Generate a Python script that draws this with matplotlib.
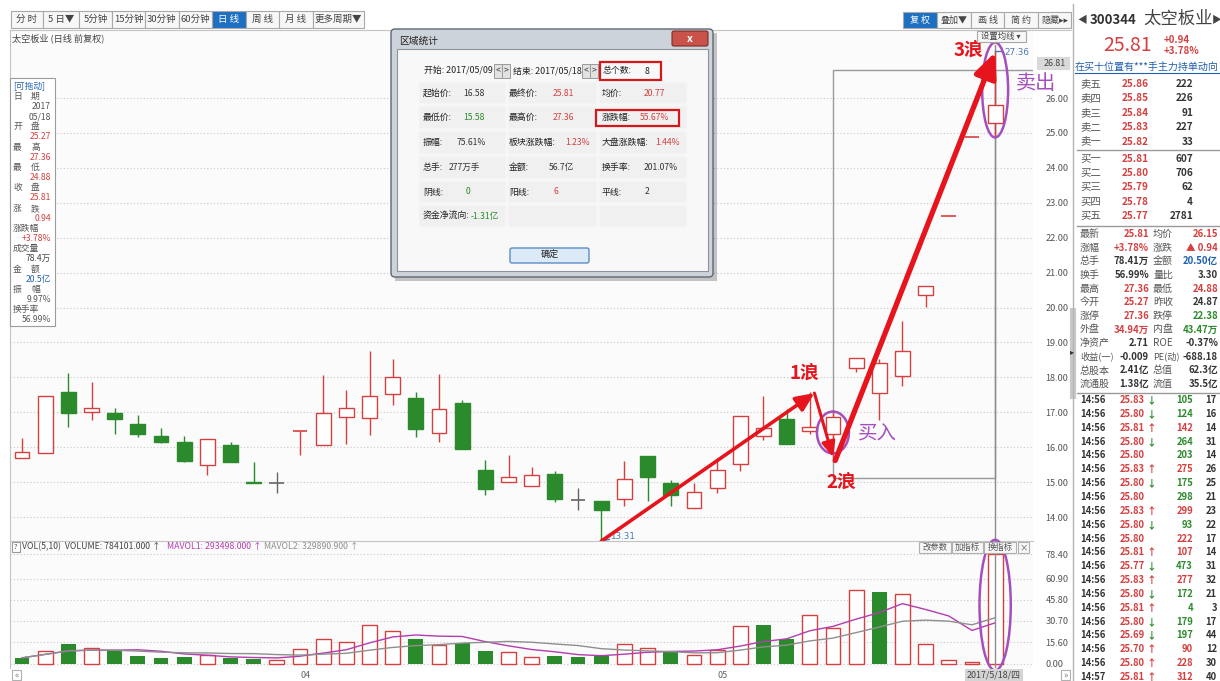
from __future__ import annotations

import numpy as np
import pandas as pd
import matplotlib
matplotlib.use("Agg")
import matplotlib.pyplot as plt
from matplotlib.patches import Rectangle, Ellipse, FancyBboxPatch

plt.rcParams["font.family"] = ["Noto Sans CJK SC", "DejaVu Sans"]

# ------------------------------------------------------------------ #
#   Daily bars 300344 (2017-03-16 .. 2017-05-18)
# ------------------------------------------------------------------ #
OPEN = [15.68, 15.83, 17.59, 17.02, 16.99, 16.66, 16.33, 16.16, 15.48, 16.06,
        14.99, 14.97, 16.47, 16.05, 16.86, 16.85, 17.52, 17.42, 16.40, 17.26,
        15.35, 14.99, 14.89, 15.23, 14.50, 14.47, 14.51, 15.76, 14.97, 14.25,
        14.82, 15.52, 16.32, 16.81, 16.46, 16.38, 18.26, 17.55, 18.05, 20.36,
        22.61, 24.87, 25.27]
HIGH = [16.27, 17.47, 18.12, 17.88, 17.13, 16.92, 16.54, 16.33, 16.24, 16.14,
        15.59, 15.28, 16.47, 18.07, 17.64, 18.75, 18.54, 17.59, 18.09, 17.35,
        15.63, 15.78, 15.44, 15.33, 14.82, 14.47, 15.61, 15.76, 15.06, 14.98,
        15.68, 16.89, 17.47, 17.09, 17.59, 17.06, 18.55, 18.54, 19.60, 20.62,
        22.61, 24.87, 27.36]
LOW = [15.68, 15.83, 16.57, 16.78, 16.37, 16.30, 16.11, 15.57, 15.20, 15.58,
       14.97, 14.70, 15.78, 16.05, 16.09, 16.35, 17.21, 16.30, 16.16, 15.95,
       14.63, 14.99, 14.89, 14.44, 14.20, 13.31, 14.31, 14.47, 14.31, 14.25,
       14.68, 15.33, 16.21, 16.08, 16.38, 15.58, 18.16, 16.78, 17.75, 20.02,
       22.61, 24.87, 24.88]
CLOSE = [15.87, 17.47, 16.99, 17.13, 16.80, 16.38, 16.14, 15.60, 16.24, 15.58,
         14.97, 14.97, 16.47, 16.97, 17.13, 17.48, 18.00, 16.52, 17.09, 15.95,
         14.80, 15.16, 15.20, 14.51, 14.50, 14.20, 15.09, 15.16, 14.63, 14.71,
         15.35, 16.89, 16.54, 16.08, 16.58, 16.86, 18.55, 18.42, 18.75, 20.62,
         22.61, 24.87, 25.81]
PREV_CLOSE = 15.95

# volume in 10k lots (万手)
VOLUME = [4.4, 9.3, 14.4, 11.4, 9.8, 5.8, 4.0, 4.9, 6.7, 4.0,
          3.5, 2.6, 10.9, 17.9, 16.0, 27.9, 23.7, 17.9, 13.7, 14.9,
          9.5, 8.6, 4.9, 5.6, 4.9, 5.6, 14.0, 11.6, 8.6, 6.3,
          10.2, 27.2, 27.9, 18.0, 35.0, 26.0, 53.0, 51.2, 50.0, 14.1,
          2.8, 1.4, 78.41]
VOL_TICKS = [0.0, 15.6, 30.7, 45.8, 60.9, 78.4]
MONTH_LABELS = {12: "04", 30: "05"}
LAST_DATE = "2017/5/18/四"
SEL_START, SEL_END = 35, 42
CROSS_PRICE = 26.81

ASK_NAME = ["卖五", "卖四", "卖三", "卖二", "卖一"]
ASK_PRICE = [25.86, 25.85, 25.84, 25.83, 25.82]
ASK_VOL = [222, 226, 91, 227, 33]
BID_NAME = ["买一", "买二", "买三", "买四", "买五"]
BID_PRICE = [25.81, 25.80, 25.79, 25.78, 25.77]
BID_VOL = [607, 706, 62, 4, 2781]

RED = "#d63f3f"
GREEN = "#2b8a2b"
BLUE = "#2060b0"
DARK = "#333333"
PURPLE = "#a54fbf"
ARROW = "#e6141c"

QUOTE = [
    (("最新", "25.81", RED), ("均价", "26.15", RED)),
    (("涨幅", "+3.78%", RED), ("涨跌", "▲ 0.94", RED)),
    (("总手", "78.41万", DARK), ("金额", "20.50亿", BLUE)),
    (("换手", "56.99%", DARK), ("量比", "3.30", DARK)),
    (("最高", "27.36", RED), ("最低", "24.88", RED)),
    (("今开", "25.27", RED), ("昨收", "24.87", DARK)),
    (("涨停", "27.36", RED), ("跌停", "22.38", GREEN)),
    (("外盘", "34.94万", RED), ("内盘", "43.47万", GREEN)),
    (("净资产", "2.71", DARK), ("ROE", "-0.37%", DARK)),
    (("收益(一)", "-0.009", DARK), ("PE(动)", "-688.18", DARK)),
    (("总股本", "2.41亿", DARK), ("总值", "62.3亿", DARK)),
    (("流通股", "1.38亿", DARK), ("流值", "35.5亿", DARK)),
]

TICK_TIME = ["14:56"] * 20 + ["14:57"]
TICK_PRICE = [25.83, 25.80, 25.81, 25.80, 25.80, 25.83, 25.80, 25.80, 25.83, 25.80,
              25.80, 25.81, 25.77, 25.83, 25.80, 25.81, 25.80, 25.69, 25.70, 25.80, 25.81]
TICK_DIR = ["d", "d", "u", "d", "", "u", "d", "", "u", "d",
            "", "u", "d", "u", "d", "u", "d", "d", "u", "u", "u"]
TICK_VOL = [105, 124, 142, 264, 203, 275, 175, 298, 299, 93,
            222, 107, 473, 277, 172, 4, 179, 197, 90, 228, 312]
TICK_SIDE = ["S", "S", "B", "S", "S", "B", "S", "S", "B", "S",
             "B", "B", "S", "B", "S", "S", "S", "S", "B", "B", "B"]
TICK_NUM = [17, 16, 14, 31, 14, 26, 25, 21, 23, 22,
            17, 14, 31, 32, 21, 3, 17, 44, 12, 30, 40]

# ------------------------------------------------------------------ #
#   Canvas: everything outside the two plots is laid out in pixels
# ------------------------------------------------------------------ #
W, H = 1220, 681
fig = plt.figure(figsize=(W / 100, H / 100), dpi=100)
fig.patch.set_facecolor("white")


def frac(x0, y0, x1, y1):
    return [x0 / W, 1 - y1 / H, (x1 - x0) / W, (y1 - y0) / H]


n = len(CLOSE)
idx = np.arange(n)
o, h, l, c = (np.asarray(a) for a in (OPEN, HIGH, LOW, CLOSE))
vol = np.asarray(VOLUME)
step = 23.17                       # pixels per bar
xl = ((10 - 22) / step, (1033 - 22) / step)

ax = fig.add_axes(frac(10, 30, 1033, 541))
axv = fig.add_axes(frac(10, 541, 1033, 668))
for a in (ax, axv):
    a.set_facecolor("#fbfbfb")
    a.set_xlim(*xl)
    a.set_xticks([])
    for s in ("right", "bottom"):
        a.spines[s].set_visible(False)
    for s in ("top", "left"):
        a.spines[s].set_color("#c4c4c4")
        a.spines[s].set_linewidth(0.8)
    a.yaxis.tick_right()
    a.tick_params(axis="y", length=0, pad=9, labelsize=6.6, labelcolor="#555555")
    a.grid(axis="y", color="#c9c9c9", linestyle=(0, (1, 2)), linewidth=0.8, zorder=0)
    a.set_axisbelow(True)

ax.set_ylim(26 - (541 - 98) / 34.92, 26 + (98 - 30) / 34.92)
ax.set_yticks(np.arange(14, 27))
ax.set_yticklabels([f"{v:.2f}" for v in np.arange(14, 27)])

# --- candles ---
bw = 0.64
for i in idx:
    if c[i] > o[i]:
        col, fill = RED, "white"
    elif c[i] < o[i]:
        col, fill = GREEN, GREEN
    else:
        col, fill = (RED if h[i] == c[i] else "#666666"), None
    ax.vlines(i, l[i], h[i], color=col, lw=1, zorder=2, clip_on=False)
    if fill is None:
        ax.hlines(c[i], i - bw / 2, i + bw / 2, color=col, lw=1.2, zorder=3)
    else:
        ax.add_patch(Rectangle((i - bw / 2, min(o[i], c[i])), bw, abs(c[i] - o[i]),
                               facecolor=fill, edgecolor=col, lw=1, zorder=3))

# --- selection box and crosshair ---
ax.add_patch(Rectangle((SEL_START, 15.12), SEL_END - SEL_START, CROSS_PRICE - 15.12,
                       fill=False, edgecolor="#9a9a9a", lw=1, zorder=1))
ax.hlines(CROSS_PRICE, SEL_END, xl[1], color="#9a9a9a", lw=1, zorder=1)
ax.axvline(SEL_END, ymax=0.97, color="#8c8c8c", lw=1, zorder=1.5)
axv.axvline(SEL_END, color="#8c8c8c", lw=1, zorder=4)

# --- extreme price tags ---
lo_i = int(np.argmin(l))
hi_i = int(np.argmax(h))
ax.plot([lo_i, lo_i + 0.35], [l[lo_i], l[lo_i] + 0.05], color="#4a78b8", lw=1, zorder=4)
ax.text(lo_i + 0.4, l[lo_i] + 0.12, f"{l[lo_i]:.2f}", fontsize=6.3, color="#4a78b8",
        va="center", family="DejaVu Sans")
ax.plot([hi_i, hi_i + 0.3], [h[hi_i], h[hi_i]], color="#4a78b8", lw=1, zorder=4)
ax.text(hi_i + 0.38, h[hi_i] - 0.05, f"{h[hi_i]:.2f}", fontsize=6.3, color="#4a78b8",
        va="center", family="DejaVu Sans", clip_on=False)

# --- wave arrows ---
def wave(p0, p1, lw, head):
    ax.annotate("", xy=p1, xytext=p0, zorder=6, annotation_clip=False,
                arrowprops=dict(arrowstyle=f"-|>,head_length={head},head_width={head * 0.45}",
                                color=ARROW, lw=lw, shrinkA=0, shrinkB=0))


peak1 = (34.2, 17.55)
trough2 = (35.0, 15.72)
wave((lo_i, l[lo_i]), peak1, 2.6, 1.1)
wave(peak1, trough2, 2.2, 0.9)
wave((35.1, 15.62), (hi_i, h[hi_i] - 0.05), 3.8, 1.5)
lab = dict(color=ARROW, fontsize=13.5, fontweight="bold", ha="center", va="center")
ax.text(33.75, 18.12, "1浪", **lab)
ax.text(35.35, 15.0, "2浪", **lab)
ax.text(40.85, 27.38, "3浪", **lab)

ax.add_patch(Ellipse((SEL_START, 16.42), 1.38, 1.2, fill=False, edgecolor=PURPLE, lw=1.8, zorder=5))
ax.add_patch(Ellipse((SEL_END, 26.23), 1.12, 2.72, fill=False, edgecolor=PURPLE, lw=1.8, zorder=5,
                     clip_on=False))
ax.text(36.9, 16.38, "买入", color=PURPLE, fontsize=14, ha="center", va="center")
ax.text(43.75, 26.42, "卖出", color=PURPLE, fontsize=14.5, ha="center", va="center", clip_on=False)

# --- volume panel ---
axv.set_ylim(-4 / 1.403, 78.4 + 13 / 1.403)
axv.set_yticks(VOL_TICKS)
axv.set_yticklabels([f"{v:.2f}" for v in VOL_TICKS])
prev = np.r_[PREV_CLOSE, c[:-1]]
up = c >= prev
axv.bar(idx[up], vol[up], width=bw, facecolor="white", edgecolor=RED, lw=1, zorder=2)
axv.bar(idx[~up], vol[~up], width=bw, color=GREEN, lw=0, zorder=2)
vs = pd.Series(vol)
axv.plot(idx, vs.rolling(5, min_periods=1).mean(), color="#b43cb0", lw=1, zorder=3)
axv.plot(idx, vs.rolling(10, min_periods=1).mean(), color="#8f8f8f", lw=1, zorder=3)
axv.add_patch(Ellipse((SEL_END, 42.0), 1.35, 93, fill=False, edgecolor=PURPLE, lw=1.8, zorder=5,
                      clip_on=False))
for k, s in MONTH_LABELS.items():
    axv.text(k, -4 / 1.403 - 5.5, s, fontsize=6.5, color="#666666", ha="left", va="center",
             clip_on=False)

# ------------------------------------------------------------------ #
#   Overlay for toolbars, side panels and the statistics dialog
# ------------------------------------------------------------------ #
ui = fig.add_axes([0, 0, 1, 1], zorder=10)
ui.set_xlim(0, W)
ui.set_ylim(H, 0)
ui.axis("off")


def box(x0, y0, x1, y1, fc="#f5f5f5", ec="#b0b0b0", lw=0.8, z=1):
    ui.add_patch(Rectangle((x0, y0), x1 - x0, y1 - y0, facecolor=fc, edgecolor=ec, lw=lw, zorder=z))


def put(x, y, s, size=7.0, color=DARK, ha="left", weight="normal", z=3, **kw):
    ui.text(x, y, s, fontsize=size, color=color, ha=ha, va="center",
            fontweight=weight, zorder=z, **kw)


# top toolbars
for s, x0, x1 in [("分 时", 11, 43), ("5 日▼", 43, 79), ("5分钟", 79, 112), ("15分钟", 112, 145),
                  ("30分钟", 145, 179), ("60分钟", 179, 212), ("日 线", 212, 246),
                  ("周 线", 246, 279), ("月 线", 279, 313), ("更多周期▼", 313, 364)]:
    sel = s == "日 线"
    box(x0, 11, x1, 28, fc="#1d6fc2" if sel else "#f7f7f7", ec="#a8a8a8")
    put((x0 + x1) / 2, 19.5, s, 6.8, "white" if sel else "#444444", ha="center")
for s, x0, x1 in [("复 权", 903, 937), ("叠加▼", 937, 971), ("画 线", 971, 1004),
                  ("简 约", 1004, 1038), ("隐藏▸▸", 1038, 1071)]:
    sel = s == "复 权"
    box(x0, 12, x1, 28, fc="#1d6fc2" if sel else "#f7f7f7", ec="#a8a8a8")
    put((x0 + x1) / 2, 20, s, 6.5, "white" if sel else "#444444", ha="center")
ui.plot([1033, 1071], [30, 30], color="#c4c4c4", lw=0.8)
put(12, 38, "太空板业 (日线 前复权)", 6.6, "#444444")
box(977, 31, 1026, 42, fc="#f7f7f7", ec="#a8a8a8")
put(1001, 36.5, "设置均线 ▾", 6.0, "#444444", ha="center")
box(1037, 57, 1069, 69, fc="#d9d9d9", ec="#d9d9d9")
put(1066, 63, f"{CROSS_PRICE:.2f}", 6.4, "#444444", ha="right")

# left info panel
box(10, 78, 55, 326, fc="white", ec="#9c9c9c")
info = [("[可拖动]", "t", BLUE), ("日期", "p", None), ("2017", "v", "#555555"), ("05/18", "v", "#555555"),
        ("开盘", "p", None), ("25.27", "v", RED), ("最高", "p", None), ("27.36", "v", RED),
        ("最低", "p", None), ("24.88", "v", RED), ("收盘", "p", None), ("25.81", "v", RED),
        ("涨跌", "p", None), ("0.94", "v", RED), ("涨跌幅", "t", None), ("+3.78%", "v", RED),
        ("成交量", "t", None), ("78.4万", "v", "#444444"), ("金额", "p", None), ("20.5亿", "v", BLUE),
        ("振幅", "p", None), ("9.97%", "v", "#555555"), ("换手率", "t", None), ("56.99%", "v", "#555555")]
for k, (s, kind, col) in enumerate(info):
    y = 86 + 10.17 * k
    if kind == "p":
        put(13, y, s[0], 6.3, "#555555")
        put(31, y, s[1], 6.3, "#555555")
    elif kind == "t":
        put(13, y, s, 6.3, col or "#555555")
    else:
        put(51, y, s, 6.2, col, ha="right")

# volume header and footer
box(12, 542, 20, 552, fc="white", ec="#999999")
put(16, 547, "?", 5.5, "#555555", ha="center")
put(22, 547, "VOL(5,10)  VOLUME: 784101.000 ↑", 6.3, "#444444")
put(167, 547, "MAVOL1: 293498.000 ↑", 6.3, "#b43cb0")
put(264, 547, "MAVOL2: 329890.900 ↑", 6.3, "#8f8f8f")
for s, x0, x1 in [("改参数", 919, 951), ("加指标", 952, 983), ("换指标", 984, 1016), ("×", 1018, 1029)]:
    box(x0, 542, x1, 553, fc="#f7f7f7", ec="#b0b0b0")
    put((x0 + x1) / 2, 547.5, s, 6.0, "#555555", ha="center")
box(12, 670, 21, 680, fc="white", ec="#b0b0b0")
put(16.5, 675, "«", 6.5, "#777777", ha="center")
box(1061, 670, 1070, 680, fc="white", ec="#b0b0b0")
put(1065.5, 675, "»", 6.5, "#777777", ha="center")
box(965, 669, 1022, 681, fc="#d4d4d4", ec="#d4d4d4")
put(993.5, 675, LAST_DATE, 6.4, "#444444", ha="center")

# right quote panel
ui.plot([1073, 1073], [4, H], color="#b4b4b4", lw=1)
box(1070, 308, 1075, 398, fc="#c8c8c8", ec="#c8c8c8")
put(1072.5, 352, "▸", 6, "#333333", ha="center")
put(1077, 20, "◀", 7, "#444444")
put(1090, 20, "300344", 9.5, "#333333", weight="bold")
put(1143, 19, "太空板业", 12.5, "#444444")
put(1212, 20, "▶", 7, "#444444")
put(1103, 45.5, f"{CLOSE[-1]:.2f}", 14, RED)
put(1164, 40, "+0.94", 7, RED, weight="bold")
put(1164, 51, "+3.78%", 7, RED, weight="bold")
put(1075, 66.5, "在买十位置有***手主力持单动向", 7.2, BLUE)
ui.plot([1075, 1220], [73, 73], color=BLUE, lw=0.8)

for k, (nm, pr, vq) in enumerate(zip(ASK_NAME + BID_NAME, ASK_PRICE + BID_PRICE, ASK_VOL + BID_VOL)):
    y = 84 + 14.4 * k + (2.5 if k >= 5 else 0)
    put(1080, y, nm, 7.5, "#555555")
    put(1149, y, f"{pr:.2f}", 7.2, RED, ha="right", weight="bold")
    put(1193, y, f"{vq}", 7.2, "#333333", ha="right", weight="bold")
ui.plot([1077, 1220], [150, 150], color="#9a9a9a", lw=1)
ui.plot([1077, 1220], [226, 226], color="#9a9a9a", lw=1)

for k, row in enumerate(QUOTE):
    y = 234 + 13.64 * k
    for (nm, val, col), (xl0, xr) in zip(row, [(1080, 1149), (1153, 1218)]):
        put(xl0, y, nm, 7.2 if len(nm) < 4 else 6.6, "#555555")
        put(xr, y, val, 6.9, col, ha="right", weight="bold")
ui.plot([1077, 1220], [393, 393], color="#9a9a9a", lw=1)

for k in range(len(TICK_TIME)):
    y = 400 + 13.85 * k
    put(1080, y, TICK_TIME[k], 6.8, "#333333", weight="bold")
    put(1145, y, f"{TICK_PRICE[k]:.2f}", 6.8, RED, ha="right", weight="bold")
    if TICK_DIR[k]:
        put(1146, y, "↑" if TICK_DIR[k] == "u" else "↓", 7,
            RED if TICK_DIR[k] == "u" else GREEN, weight="bold")
    put(1193, y, f"{TICK_VOL[k]}", 6.8, RED if TICK_SIDE[k] == "B" else GREEN, ha="right", weight="bold")
    put(1217, y, f"{TICK_NUM[k]}", 6.8, "#333333", ha="right", weight="bold")

# ------------------------------------------------------------------ #
#   Region statistics dialog
# ------------------------------------------------------------------ #
ui.add_patch(Rectangle((395, 33), 322, 248, facecolor="black", alpha=0.22, lw=0, zorder=4))
ui.add_patch(FancyBboxPatch((391, 29), 322, 248, boxstyle="round,pad=0,rounding_size=4",
                            facecolor="#cdd3da", edgecolor="#5f6771", lw=1, zorder=5))
put(399, 41, "区域统计", 7, "#222222", z=6)
ui.add_patch(FancyBboxPatch((672, 31), 36, 15, boxstyle="round,pad=0,rounding_size=2",
                            facecolor="#c9524b", edgecolor="#7b2b26", lw=0.8, zorder=6))
put(690, 38.5, "x", 7.5, "white", ha="center", weight="bold", z=7)
ui.add_patch(Rectangle((397, 49), 311, 222, facecolor="#f8f8f8", edgecolor="#8d939b", lw=0.8, zorder=6))

DZ = 7
put(424, 71, "开始: 2017/05/09", 6.4, "#222222", z=DZ)
put(513, 71, "结束: 2017/05/18", 6.4, "#222222", z=DZ)
for x0 in (494, 502, 582, 590):
    ui.add_patch(Rectangle((x0, 64), 7.5, 14, facecolor="#e2e2e2", edgecolor="#9a9a9a", lw=0.7, zorder=DZ))
    put(x0 + 3.75, 71, "<" if x0 in (494, 582) else ">", 6.2, "#333333", ha="center", z=DZ + 1)

cols = [418, 507, 598, 688]
rows = [81, 105, 130, 155, 180, 204, 228]
for r in range(6):
    for cc in range(3):
        ui.add_patch(FancyBboxPatch((cols[cc] + 1, rows[r] + 1), cols[cc + 1] - cols[cc] - 2,
                                    rows[r + 1] - rows[r] - 2, boxstyle="round,pad=0,rounding_size=2",
                                    facecolor="#f0f0f0", edgecolor="#f6f6f6", lw=1, zorder=DZ))
cells = [
    [("起始价:", "16.58", DARK, 463), ("最终价:", "25.81", RED, 553), ("均价:", "20.77", RED, 644)],
    [("最低价:", "15.58", GREEN, 463), ("最高价:", "27.36", RED, 553), ("涨跌幅:", "55.67%", RED, 640)],
    [("振幅:", "75.61%", DARK, 457), ("板块涨跌幅:", "1.23%", RED, 565), ("大盘涨跌幅:", "1.44%", RED, 655)],
    [("总手:", "277万手", DARK, 449), ("金额:", "56.7亿", DARK, 549), ("换手率:", "201.07%", DARK, 644)],
    [("阴线:", "0", GREEN, 466), ("阳线:", "6", RED, 554), ("平线:", "2", DARK, 645)],
    [("资金净流向:", "-1.31亿", GREEN, 471)],
]
lab_x = [423, 509, 602]
for r, row in enumerate(cells):
    y = (rows[r] + rows[r + 1]) / 2
    for cc, (nm, val, col, vx) in enumerate(row):
        put(lab_x[cc], y, nm, 6.4, "#222222", z=DZ + 1)
        put(vx, y, val, 6.2, col, z=DZ + 1)
for x0, y0, x1, y1 in [(600, 62, 661, 80), (596, 110, 679, 126)]:
    ui.add_patch(Rectangle((x0, y0), x1 - x0, y1 - y0, fill=False, edgecolor="#d3171b", lw=1.6, zorder=DZ + 2))
put(603, 71, "总个数:", 6.4, "#222222", z=DZ + 1)
put(645, 71, f"{SEL_END - SEL_START + 1}", 6.4, "#222222", z=DZ + 1)
ui.add_patch(FancyBboxPatch((510, 248), 79, 15, boxstyle="round,pad=0,rounding_size=2",
                            facecolor="#dce9f6", edgecolor="#5a8ec6", lw=1, zorder=DZ))
put(549.5, 255.5, "确定", 6.6, "#222222", ha="center", z=DZ + 1)

fig.savefig("out.png", dpi=100, facecolor="white")
